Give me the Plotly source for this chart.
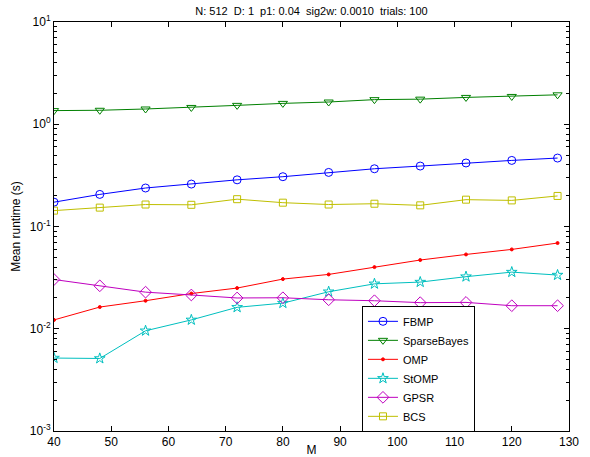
import plotly.graph_objects as go

# Problem size M and mean runtimes (seconds) for each algorithm
M = [40, 48, 56, 64, 72, 80, 88, 96, 104, 112, 120, 128]

fbmp = [0.173, 0.206, 0.238, 0.260, 0.286, 0.307, 0.338, 0.367, 0.390, 0.418, 0.443, 0.467]
sparse_bayes = [1.36, 1.37, 1.41, 1.46, 1.53, 1.60, 1.65, 1.74, 1.76, 1.83, 1.87, 1.94]
omp = [0.0122, 0.0163, 0.0188, 0.0221, 0.0250, 0.0306, 0.0340, 0.0401, 0.0470, 0.0533, 0.0597, 0.0689]
stomp = [0.00517, 0.00512, 0.00955, 0.0122, 0.0162, 0.0178, 0.0230, 0.0275, 0.0286, 0.0323, 0.0358, 0.0335]
gpsr = [0.0303, 0.0263, 0.0228, 0.0214, 0.0200, 0.0201, 0.0192, 0.0188, 0.0180, 0.0181, 0.0168, 0.0168]
bcs = [0.143, 0.153, 0.164, 0.163, 0.185, 0.171, 0.164, 0.167, 0.161, 0.183, 0.180, 0.199]

x_ticks = [40, 50, 60, 70, 80, 90, 100, 110, 120, 130]
y_ticks = [1e-3, 1e-2, 1e-1, 1e0, 1e1]
y_tick_text = ["10<sup>-3</sup>", "10<sup>-2</sup>", "10<sup>-1</sup>", "10<sup>0</sup>", "10<sup>1</sup>"]

title_text = "N: 512  D: 1  p1: 0.04  sig2w: 0.0010  trials: 100"

FONT = "Liberation Sans, Arial, Helvetica, sans-serif"

series = [
    ("FBMP", fbmp, "rgb(0,0,255)", "circle-open", 8),
    ("SparseBayes", sparse_bayes, "rgb(0,128,0)", "triangle-down-open", 8),
    ("OMP", omp, "rgb(255,0,0)", "circle", 3),
    ("StOMP", stomp, "rgb(0,191,191)", "star-open", 8),
    ("GPSR", gpsr, "rgb(191,0,191)", "diamond-open", 9),
    ("BCS", bcs, "rgb(191,191,0)", "square-open", 7),
]

fig = go.Figure()
for name, vals, color, symbol, size in series:
    fig.add_trace(go.Scatter(
        x=M, y=vals, name=name, mode="lines+markers",
        line=dict(color=color, width=1),
        marker=dict(symbol=symbol, size=size, color=color,
                    line=dict(color=color, width=1)),
    ))

axis_common = dict(
    showline=True, linecolor="black", linewidth=1, mirror="allticks",
    ticks="inside", tickcolor="black", ticklen=5, showgrid=False,
    zeroline=False, automargin=False,
    tickfont=dict(family=FONT, size=12, color="black"),
)

fig.update_xaxes(
    range=[40, 130], tickvals=x_ticks, ticktext=[str(v) for v in x_ticks],
    title=dict(text="M", font=dict(family=FONT, size=12, color="black"), standoff=0),
    **axis_common,
)
fig.update_yaxes(
    type="log", range=[-3, 1], tickvals=y_ticks, ticktext=y_tick_text,
    minor=dict(ticks="inside", ticklen=3, tickcolor="black",
               tickvals=[m * 10 ** e for e in range(-3, 1) for m in range(2, 10)]),
    title=dict(text="Mean runtime (s)", font=dict(family=FONT, size=12, color="black"), standoff=6),
    **axis_common,
)

fig.update_layout(
    width=590, height=457,
    margin=dict(l=54, r=21, t=22, b=26),
    paper_bgcolor="white", plot_bgcolor="white",
    font=dict(family=FONT, size=11, color="black"),
    title=dict(text=title_text, x=0.5, xanchor="center", y=1 - 11 / 457, yanchor="middle",
               xref="paper", font=dict(family=FONT, size=11, color="black")),
    showlegend=True,
    legend=dict(
        x=0.598, y=0.152, xanchor="left", yanchor="middle",
        bgcolor="white", bordercolor="black", borderwidth=1,
        font=dict(family=FONT, size=11, color="black"),
        tracegroupgap=0, itemwidth=30,
    ),
)

fig.write_html("out.html")
